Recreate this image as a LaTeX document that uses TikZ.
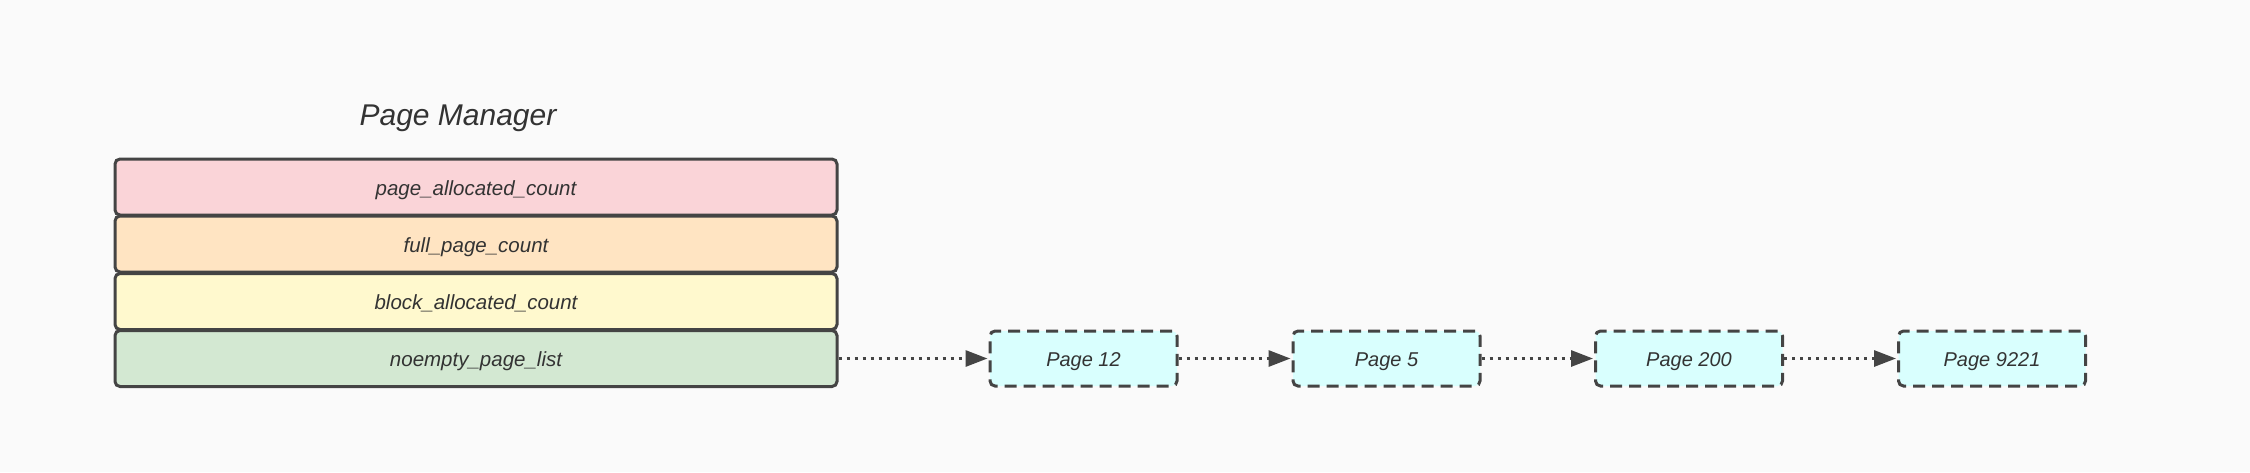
\documentclass[tikz,border=0pt]{standalone}
\usepackage{fontspec}
\setmainfont{Liberation Sans}
\usetikzlibrary{arrows.meta}
\definecolor{bg}{HTML}{FAFAFA}
\definecolor{edge}{HTML}{444444}
\definecolor{txt}{HTML}{333333}
\definecolor{cpink}{HTML}{FAD4D8}
\definecolor{corange}{HTML}{FFE4C2}
\definecolor{cyellow}{HTML}{FFF9CE}
\definecolor{cgreen}{HTML}{D3E8D2}
\definecolor{ccyan}{HTML}{D9FFFE}
\tikzset{
  field/.style={draw=edge, line width=3pt, rounded corners=5pt, minimum width=722pt, minimum height=56pt, inner sep=0pt, text height=18pt, text depth=2pt, text=txt, font=\fontsize{20.5}{24}\selectfont\itshape},
  pagebox/.style={draw=edge, line width=3pt, rounded corners=5pt, dash pattern=on 12pt off 7pt, fill=ccyan, minimum width=187pt, minimum height=55pt, inner sep=0pt, text height=17pt, text depth=2pt, text=txt, font=\fontsize{20}{24}\selectfont\itshape},
  link/.style={draw=edge, line width=3pt, dash pattern=on 3pt off 5pt, -{Triangle[length=22pt,width=16pt,fill=edge]}, shorten >=1pt}
}
\begin{document}
\begin{tikzpicture}[x=1pt,y=-1pt]
\fill[bg] (0,0) rectangle (2250,472);
\useasboundingbox (0,0) rectangle (2250,472);
\node[text=txt, font=\fontsize{30}{36}\selectfont\itshape] (title) at (458,118) {Page Manager};
\node[field, fill=cpink] (pac) at (476,187) {page\_allocated\_count};
\node[field, fill=corange] (fpc) at (476,244) {full\_page\_count};
\node[field, fill=cyellow] (bac) at (476,301.5) {block\_allocated\_count};
\node[field, fill=cgreen] (npl) at (476,358.5) {noempty\_page\_list};
\node[pagebox] (p12) at (1083.5,358.5) {Page 12};
\node[pagebox] (p5) at (1386.5,358.5) {Page 5};
\node[pagebox] (p200) at (1689,358.5) {Page 200};
\node[pagebox] (p9221) at (1992,358.5) {Page 9221};
\draw[link] (npl.east) -- (p12.west);
\draw[link] (p12.east) -- (p5.west);
\draw[link] (p5.east) -- (p200.west);
\draw[link] (p200.east) -- (p9221.west);
\end{tikzpicture}
\end{document}
